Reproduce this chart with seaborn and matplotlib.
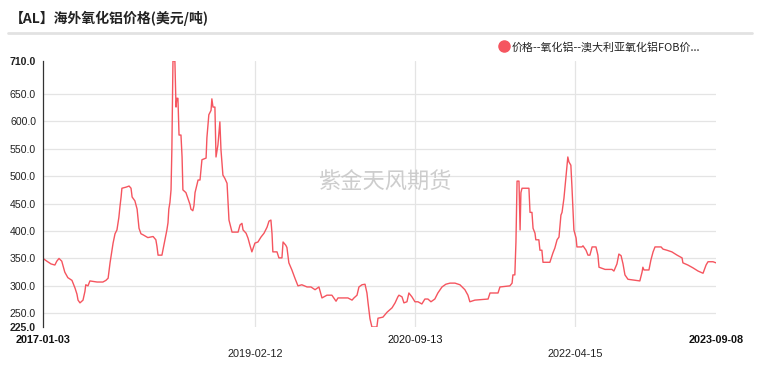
import matplotlib
matplotlib.use("Agg")
import matplotlib.pyplot as plt
from matplotlib.lines import Line2D
import seaborn as sns
import pandas as pd

# ---------------- data ----------------
title = "【AL】海外氧化铝价格(美元/吨)"
series_name = "价格--氧化铝--澳大利亚氧化铝FOB价..."
watermark = "紫金天风期货"

dates = [
    "2017-01-03", "2017-01-17", "2017-02-01", "2017-02-15", "2017-02-22", "2017-03-02", "2017-03-12",
    "2017-03-23", "2017-04-03", "2017-04-18", "2017-04-29", "2017-05-06", "2017-05-10", "2017-05-17",
    "2017-05-28", "2017-06-04", "2017-06-07", "2017-06-15", "2017-06-22", "2017-07-18", "2017-08-08",
    "2017-08-19", "2017-08-27", "2017-09-03", "2017-09-14", "2017-09-21", "2017-09-28", "2017-10-05",
    "2017-10-09", "2017-10-13", "2017-10-16", "2017-10-31", "2017-11-11", "2017-11-18", "2017-11-22",
    "2017-12-02", "2017-12-10", "2017-12-17", "2017-12-24", "2018-01-01", "2018-01-18", "2018-02-06",
    "2018-02-16", "2018-02-20", "2018-02-24", "2018-03-10", "2018-03-17", "2018-03-28", "2018-04-01",
    "2018-04-04", "2018-04-08", "2018-04-12", "2018-04-15", "2018-04-19", "2018-04-26", "2018-04-30",
    "2018-05-03", "2018-05-07", "2018-05-11", "2018-05-18", "2018-05-22", "2018-05-25", "2018-06-05",
    "2018-06-12", "2018-06-20", "2018-06-23", "2018-06-30", "2018-07-04", "2018-07-08", "2018-07-19",
    "2018-07-26", "2018-08-02", "2018-08-17", "2018-08-20", "2018-08-27", "2018-09-04", "2018-09-07",
    "2018-09-11", "2018-09-18", "2018-09-22", "2018-09-29", "2018-10-06", "2018-10-10", "2018-10-17",
    "2018-10-24", "2018-11-01", "2018-11-04", "2018-11-08", "2018-11-19", "2018-12-11", "2018-12-18",
    "2018-12-25", "2018-12-29", "2019-01-09", "2019-01-16", "2019-01-23", "2019-01-30", "2019-02-10",
    "2019-02-21", "2019-03-04", "2019-03-15", "2019-03-26", "2019-04-02", "2019-04-09", "2019-04-13",
    "2019-04-16", "2019-05-01", "2019-05-08", "2019-05-19", "2019-05-23", "2019-06-02", "2019-06-06",
    "2019-06-13", "2019-06-24", "2019-07-05", "2019-07-16", "2019-07-30", "2019-08-18", "2019-09-01",
    "2019-09-16", "2019-09-30", "2019-10-11", "2019-10-29", "2019-11-16", "2019-12-01", "2019-12-08",
    "2020-01-13", "2020-01-28", "2020-02-04", "2020-02-15", "2020-02-22", "2020-03-04", "2020-03-15",
    "2020-03-22", "2020-03-26", "2020-04-02", "2020-04-09", "2020-04-27", "2020-05-01", "2020-05-19",
    "2020-06-03", "2020-06-21", "2020-07-02", "2020-07-12", "2020-07-16", "2020-07-27", "2020-08-03",
    "2020-08-14", "2020-08-21", "2020-09-01", "2020-09-12", "2020-09-23", "2020-10-07", "2020-10-18",
    "2020-10-29", "2020-11-09", "2020-11-23", "2020-12-04", "2020-12-19", "2021-01-02", "2021-01-17",
    "2021-02-04", "2021-02-22", "2021-03-12", "2021-03-23", "2021-03-30", "2021-04-17", "2021-06-04",
    "2021-06-11", "2021-07-10", "2021-07-17", "2021-08-22", "2021-08-30", "2021-09-02", "2021-09-09",
    "2021-09-13", "2021-09-17", "2021-09-24", "2021-09-28", "2021-10-01", "2021-10-05", "2021-10-30",
    "2021-11-03", "2021-11-10", "2021-11-14", "2021-11-21", "2021-11-24", "2021-12-05", "2021-12-09",
    "2021-12-16", "2021-12-20", "2022-01-14", "2022-01-25", "2022-02-01", "2022-02-09", "2022-02-16",
    "2022-02-23", "2022-02-27", "2022-03-06", "2022-03-13", "2022-03-17", "2022-03-20", "2022-03-24",
    "2022-03-31", "2022-04-04", "2022-04-08", "2022-04-11", "2022-04-19", "2022-04-22", "2022-05-10",
    "2022-05-14", "2022-05-25", "2022-06-01", "2022-06-08", "2022-06-16", "2022-06-30", "2022-07-07",
    "2022-07-11", "2022-08-02", "2022-08-27", "2022-09-03", "2022-09-14", "2022-09-21", "2022-09-29",
    "2022-10-06", "2022-10-13", "2022-10-24", "2022-12-06", "2022-12-14", "2022-12-17", "2022-12-21",
    "2023-01-08", "2023-01-15", "2023-01-23", "2023-01-30", "2023-02-21", "2023-02-28", "2023-03-14",
    "2023-04-01", "2023-04-20", "2023-05-08", "2023-05-11", "2023-05-29", "2023-06-16", "2023-07-05",
    "2023-07-23", "2023-08-03", "2023-08-10", "2023-08-28", "2023-09-08",
]

prices = [
    350, 345, 340, 338, 345, 350, 345,
    325, 315, 310, 296, 285, 274, 269,
    274, 290, 302, 300, 309, 307, 307,
    310, 314, 342, 378, 395, 402, 425,
    445, 462, 478, 480, 482, 478, 462,
    455, 440, 405, 395, 393, 388, 390,
    384, 372, 356, 356, 374, 402, 415,
    440, 452, 475, 548, 710, 710, 626,
    642, 642, 575, 575, 535, 475, 470,
    460, 448, 440, 437, 446, 470, 493,
    493, 530, 533, 570, 612, 620, 641,
    626, 626, 535, 557, 599, 548, 502,
    496, 487, 457, 420, 398, 398, 411,
    414, 402, 396, 387, 374, 362, 378,
    380, 389, 396, 407, 418, 420, 395,
    362, 362, 351, 351, 380, 374, 370,
    342, 329, 314, 300, 302, 298, 298,
    293, 298, 278, 283, 283, 272, 278,
    278, 274, 278, 283, 298, 302, 303,
    287, 269, 240, 225, 225, 241, 243,
    252, 260, 269, 280, 283, 280, 269,
    271, 287, 280, 271, 271, 267, 276,
    276, 271, 276, 287, 298, 303, 305,
    305, 302, 293, 283, 271, 274, 276,
    287, 287, 298, 300, 305, 320, 320,
    380, 491, 491, 402, 470, 478, 478,
    434, 434, 405, 396, 384, 384, 365,
    365, 343, 343, 360, 369, 384, 389,
    429, 434, 460, 498, 520, 535, 526,
    520, 480, 434, 402, 387, 371, 371,
    373, 365, 356, 356, 371, 371, 356,
    334, 330, 330, 327, 340, 358, 355,
    340, 320, 312, 309, 325, 334, 329,
    329, 347, 362, 371, 371, 367, 365,
    362, 356, 351, 342, 338, 333, 327,
    323, 338, 344, 344, 342,
]

x_row1_labels = ["2017-01-03", "2020-09-13", "2023-09-08"]
x_row2_labels = ["2019-02-12", "2022-04-15"]
x_grid_labels = ["2019-02-12", "2020-09-13", "2022-04-15"]
y_ticks = [225, 250, 300, 350, 400, 450, 500, 550, 600, 650, 710]

# ---------------- style ----------------
sns.set_theme(style="white")
plt.rcParams["font.family"] = ["Liberation Sans", "Noto Sans CJK SC", "DejaVu Sans"]
cjk = ["Noto Sans CJK SC", "DejaVu Sans"]
RED = "#f5555f"
GRID = "#e4e4e4"

df = pd.DataFrame({"date": pd.to_datetime(dates), "price": prices})

fig = plt.figure(figsize=(7.61, 3.81), dpi=100)
ax = fig.add_axes([43 / 761, 1 - 327 / 381, (716 - 43) / 761, (327 - 61) / 381])

sns.lineplot(data=df, x="date", y="price", ax=ax, color=RED, linewidth=1.0,
             estimator=None, legend=False)

ax.set_xlim(pd.Timestamp(dates[0]), pd.Timestamp(dates[-1]))
ax.set_ylim(y_ticks[0], y_ticks[-1])

# y axis
ax.set_yticks(y_ticks)
ax.set_yticklabels([f"{v:.1f}" for v in y_ticks], fontsize=7.6, color="#222222")
for lab in ax.get_yticklabels():
    if lab.get_text() in ("225.0", "710.0"):
        lab.set_fontweight("bold")
ax.tick_params(axis="y", length=3, width=0.8, color="#333333", pad=2)
for v in y_ticks[1:-1]:
    ax.axhline(v, color=GRID, linewidth=0.9, zorder=0)

# x axis: staggered labels
ax.set_xticks(pd.to_datetime(x_row1_labels))
ax.set_xticklabels(x_row1_labels, fontsize=7.8, fontweight="bold", color="#111111")
ax.set_xticks(pd.to_datetime(x_row2_labels), minor=True)
ax.set_xticklabels(x_row2_labels, minor=True, fontsize=7.8, color="#222222")
for lab in ax.get_xticklabels():
    if lab.get_text() == "2020-09-13":
        lab.set_fontweight("normal")
ax.tick_params(axis="x", which="major", length=0, pad=6)
ax.tick_params(axis="x", which="minor", length=0, pad=16)
for d in pd.to_datetime(x_grid_labels):
    ax.axvline(d, color=GRID, linewidth=0.9, zorder=0)

for s in ["top", "right", "bottom"]:
    ax.spines[s].set_visible(False)
ax.spines["left"].set_color("#333333")
ax.spines["left"].set_linewidth(0.9)
ax.set_xlabel("")
ax.set_ylabel("")

# watermark
ax.text(0.508, 0.545, watermark, transform=ax.transAxes, ha="center", va="center",
        fontsize=16, color="#c8c8c8", family=cjk, alpha=0.9, zorder=1)

# title and separator
fig.text(10 / 761, 1 - 18 / 381, title, ha="left", va="center", fontsize=10,
         fontweight="bold", family=cjk, color="#222222")
fig.add_artist(Line2D([8 / 761, 752 / 761], [1 - 33 / 381, 1 - 33 / 381],
                      color="#e2e2e2", linewidth=2))

# legend
handle = Line2D([], [], marker="o", linestyle="", color=RED, markersize=8)
fig.legend([handle], [series_name], loc="center left",
           bbox_to_anchor=(497 / 761, 1 - 47 / 381), frameon=False,
           prop={"family": cjk, "size": 7.9}, handletextpad=0.1,
           borderpad=0, borderaxespad=0, handlelength=1.2, labelcolor="#222222")

fig.savefig("out.png", dpi=100, facecolor="white")
